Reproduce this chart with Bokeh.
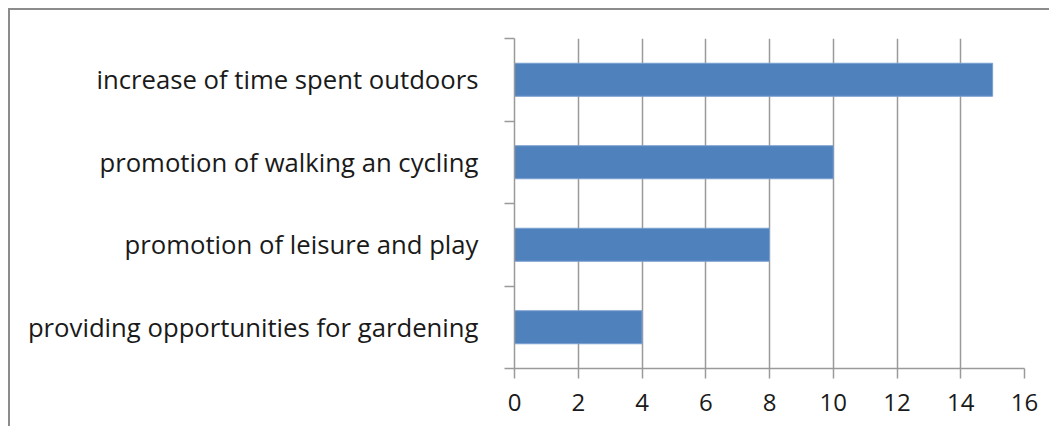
from bokeh.plotting import figure
from bokeh.models import FixedTicker, Range1d
from bokeh.embed import file_html
from bokeh.resources import INLINE

categories = [
    "providing opportunities for gardening",
    "promotion of leisure and play",
    "promotion of walking an cycling",
    "increase of time spent outdoors",
]
values = [4, 8, 10, 15]
x_ticks = [0, 2, 4, 6, 8, 10, 12, 14, 16]

ypos = [i + 0.5 for i in range(len(categories))]
boundaries = list(range(len(categories) + 1))

p = figure(width=1041, height=418, output_backend="svg", toolbar_location=None,
           x_range=Range1d(0, 16), y_range=Range1d(0, len(categories)),
           min_border_left=504, min_border_right=27, min_border_top=28, min_border_bottom=60)
p.styles = {"border-top": "2px solid #8c8c8c", "border-left": "2px solid #8c8c8c",
            "margin-left": "8px", "margin-top": "8px"}
p.outline_line_color = None
p.background_fill_color = "white"

p.hbar(y=ypos, right=values, left=0, height=0.4, fill_color="#4F81BD", line_color="#7a9fd0", line_width=1)

# x axis
p.xaxis.ticker = FixedTicker(ticks=x_ticks)
p.xaxis.axis_line_color = "#9a9a9a"
p.xaxis.axis_line_width = 1.5
p.xaxis.major_tick_line_color = "#9a9a9a"
p.xaxis.major_tick_line_width = 1.5
p.xaxis.major_tick_out = 10
p.xaxis.major_tick_in = 0
p.xaxis.minor_tick_line_color = None
p.xaxis.major_label_text_font = "Open Sans"
p.xaxis.major_label_text_font_size = "24px"
p.xaxis.major_label_text_color = "#1a1a1a"
p.xaxis.major_label_standoff = 15

# y axis
p.yaxis.ticker = FixedTicker(ticks=ypos, minor_ticks=boundaries)
p.yaxis.major_label_overrides = {y: c for y, c in zip(ypos, categories)}
p.yaxis.major_tick_line_color = None
p.yaxis.minor_tick_line_color = "#9a9a9a"
p.yaxis.minor_tick_line_width = 1.5
p.yaxis.minor_tick_out = 10
p.yaxis.minor_tick_in = 0
p.yaxis.axis_line_color = "#9a9a9a"
p.yaxis.axis_line_width = 1.5
p.yaxis.major_label_text_font = "Open Sans"
p.yaxis.major_label_text_font_size = "25.7px"
p.yaxis.major_label_text_color = "#1a1a1a"
p.yaxis.major_label_standoff = 26

p.xgrid.ticker = FixedTicker(ticks=x_ticks)
p.xgrid.grid_line_color = "#9a9a9a"
p.xgrid.grid_line_width = 1.5
p.ygrid.grid_line_color = None

open("out.html", "w").write(file_html(p, INLINE))
